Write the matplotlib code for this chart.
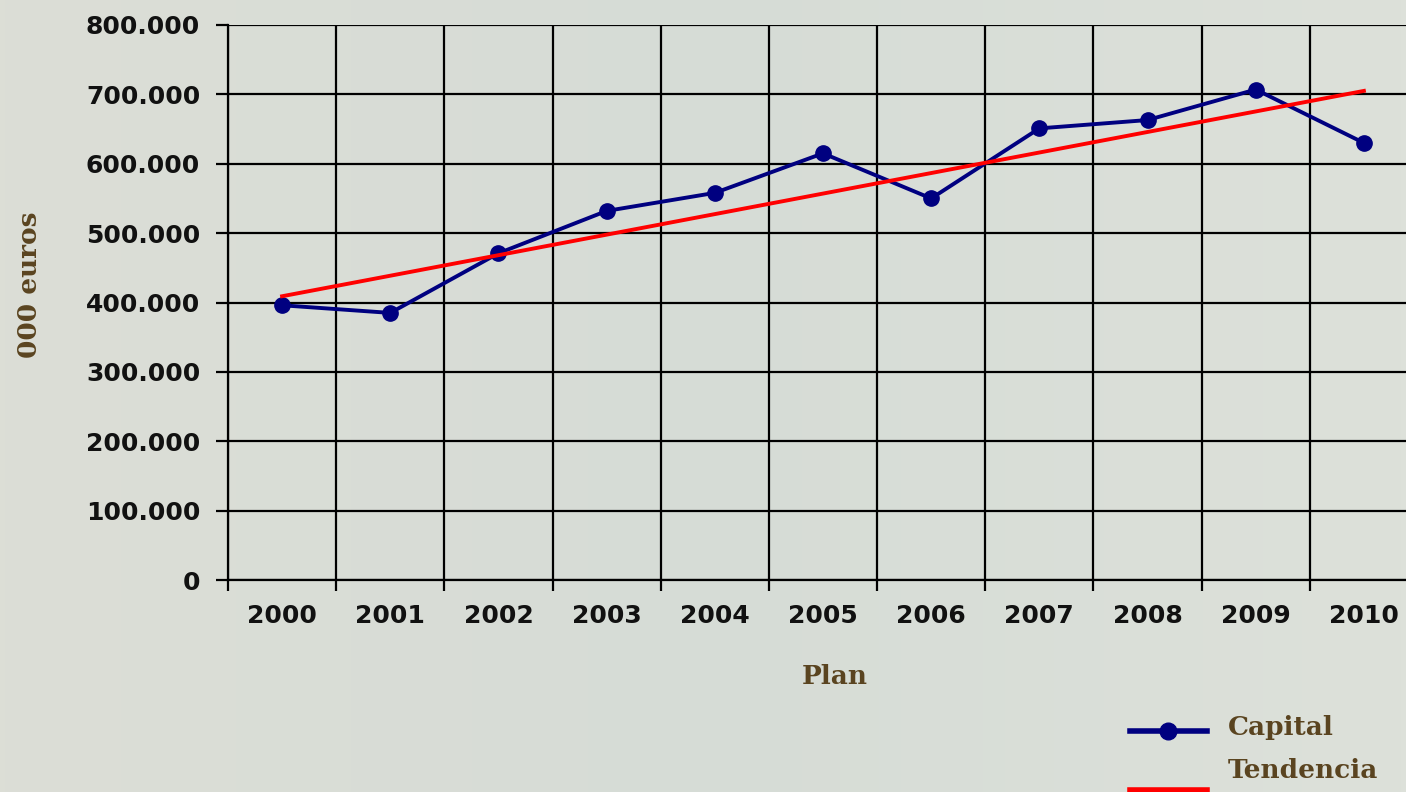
import matplotlib
matplotlib.use("Agg")
import matplotlib.pyplot as plt
import numpy as np
from matplotlib.lines import Line2D
from matplotlib.ticker import FuncFormatter, FixedLocator
from matplotlib.colors import LinearSegmentedColormap

years = ["2000", "2001", "2002", "2003", "2004", "2005",
         "2006", "2007", "2008", "2009", "2010"]
capital = [396000, 385000, 471000, 532000, 558000, 615000,
           550000, 651000, 663000, 707000, 630000]
tendencia_start = 409000
tendencia_end = 705000
y_ticks = [0, 100000, 200000, 300000, 400000, 500000, 600000, 700000, 800000]

W, H = 1406, 792
fig = plt.figure(figsize=(W / 100, H / 100), dpi=100)
fig.patch.set_facecolor("#d9ddd5")

# subtle background gradient
bg = fig.add_axes([0, 0, 1, 1], zorder=-10)
grad = np.linspace(0, 1, 256)[None, :]
cmap = LinearSegmentedColormap.from_list("bg", ["#dcded6", "#d6dcd6", "#dde1da"])
bg.imshow(grad, aspect="auto", cmap=cmap, extent=[0, 1, 0, 1])
bg.set_axis_off()

ax = fig.add_axes([228 / W, 1 - 580 / H, 1190 / W, 555 / H])
ax.set_facecolor("none")

x = np.arange(len(years))
ax.plot(x, capital, color="#000080", lw=2.8, marker="o", ms=11,
        markeredgecolor="#000080", zorder=3)
trend_x = [x[0], x[-1]]
ax.plot(trend_x, [tendencia_start, tendencia_end], color="#ff0000", lw=2.8, zorder=4)

ax.set_xlim(-0.5, len(years) - 0.5)
ax.set_ylim(0, 800000)

ax.xaxis.set_major_locator(FixedLocator(x))
ax.set_xticklabels(years)
ax.xaxis.set_minor_locator(FixedLocator(np.arange(-0.5, len(years), 1.0)))
ax.tick_params(axis="x", which="major", length=0, pad=17)
ax.tick_params(axis="x", which="minor", length=8, width=1.6, direction="out", color="black")
ax.grid(True, axis="x", which="minor", color="black", lw=1.6)

ax.yaxis.set_major_locator(FixedLocator(y_ticks))
ax.yaxis.set_major_formatter(FuncFormatter(lambda v, p: f"{int(v):,}".replace(",", ".")))
ax.tick_params(axis="y", length=9, width=1.6, direction="out", color="black", pad=11)
ax.grid(True, axis="y", which="major", color="black", lw=1.6)

for lab in ax.get_xticklabels() + ax.get_yticklabels():
    lab.set_fontfamily("DejaVu Sans")
    lab.set_fontweight("bold")
    lab.set_fontsize(18)
    lab.set_color("#111111")

for s in ["top", "right"]:
    ax.spines[s].set_visible(False)
for s in ["left", "bottom"]:
    ax.spines[s].set_linewidth(1.6)
    ax.spines[s].set_color("black")
ax.set_axisbelow(True)

brown = "#5a4420"
serif = dict(fontfamily="DejaVu Serif", fontweight="bold", fontsize=19, color=brown)
fig.text(835 / W, 1 - 677 / H, "Plan", ha="center", va="center", **serif)
fig.text(30 / W, 1 - 285 / H, "000 euros", ha="center", va="center", rotation=90, **serif)

# legend
fig.add_artist(Line2D([1130 / W, 1207 / W], [1 - 731 / H, 1 - 731 / H],
                      color="#000080", lw=4))
fig.add_artist(Line2D([1168 / W], [1 - 731 / H], color="#000080", marker="o", ms=12, lw=0))
fig.add_artist(Line2D([1130 / W, 1207 / W], [1 - 790 / H, 1 - 790 / H],
                      color="#ff0000", lw=4))
fig.text(1228 / W, 1 - 728 / H, "Capital", ha="left", va="center", **serif)
fig.text(1228 / W, 1 - 770 / H, "Tendencia", ha="left", va="center", **serif)

fig.savefig("out.png", dpi=100, facecolor=fig.get_facecolor())
